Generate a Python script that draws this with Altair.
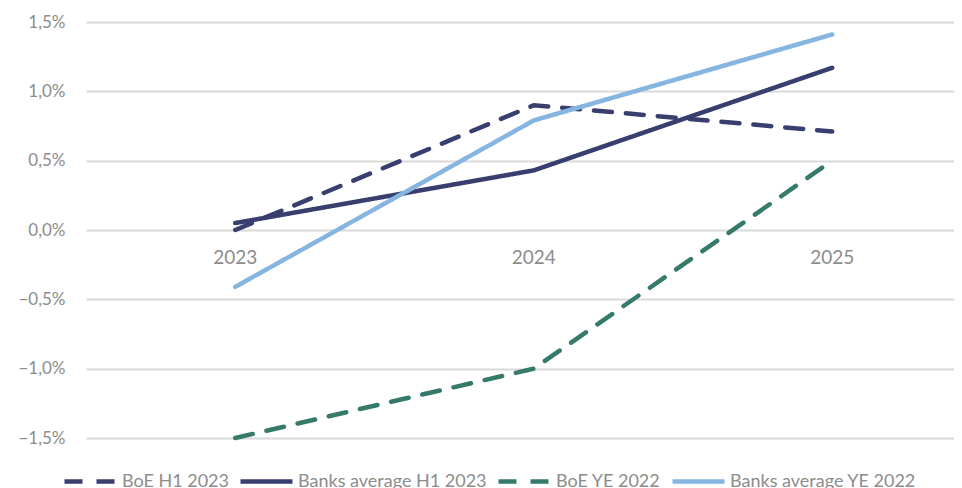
import altair as alt
import pandas as pd

years = [2023, 2024, 2025]
series_names = ["BoE H1 2023", "Banks average H1 2023", "BoE YE 2022", "Banks average YE 2022"]
boe_h1_2023 = [0.0, 0.90, 0.71]
banks_h1_2023 = [0.05, 0.43, 1.17]
boe_ye_2022 = [-1.5, -1.0, 0.5]
banks_ye_2022 = [-0.41, 0.79, 1.41]
colors = ["#383f6e", "#383f6e", "#357a6a", "#86b5e1"]
dashes = [[18, 14], [1, 0], [18, 14], [1, 0]]

rows = []
for name, vals in zip(series_names, [boe_h1_2023, banks_h1_2023, boe_ye_2022, banks_ye_2022]):
    for y, v in zip(years, vals):
        rows.append({"year": y, "value": v, "series": name})
df = pd.DataFrame(rows)
ydf = pd.DataFrame({"year": years, "label": [str(y) for y in years], "zero": [0, 0, 0]})

font = "Lato"
gray = "#8c8c8c"

xscale = alt.Scale(domain=[2022.5, 2025.408], nice=False, zero=False)
yscale = alt.Scale(domain=[-1.5, 1.5], nice=False)

leg = alt.Legend(title=None, orient="none", legendX=-24, legendY=431,
                 direction="horizontal", symbolType="stroke", gridAlign="none",
                 symbolSize=2704, symbolStrokeWidth=4.5,
                 labelFont=font, labelFontSize=18, labelColor=gray,
                 labelLimit=400, columnPadding=2, labelOffset=3)

lines = alt.Chart(df).mark_line(strokeWidth=4.5, strokeCap="round").encode(
    x=alt.X("year:Q", scale=xscale, axis=None),
    y=alt.Y("value:Q", scale=yscale, axis=alt.Axis(
        values=[-1.5, -1.0, -0.5, 0, 0.5, 1.0, 1.5],
        labelExpr="replace(format(datum.value, '.1f'), '.', ',') + '%'",
        title=None, domain=False, ticks=False, grid=True,
        gridColor="#d9d9d9", gridWidth=2, labelFont=font, labelFontSize=17,
        labelColor=gray, labelPadding=21)),
    color=alt.Color("series:N", sort=series_names,
                    scale=alt.Scale(domain=series_names, range=colors),
                    legend=leg),
    strokeDash=alt.StrokeDash("series:N", sort=series_names,
                              scale=alt.Scale(domain=series_names, range=dashes),
                              legend=leg),
)

labels = alt.Chart(ydf).mark_text(font=font, fontSize=19, color=gray, dy=28).encode(
    x=alt.X("year:Q", scale=xscale, axis=None),
    y=alt.Y("zero:Q", scale=yscale),
    text="label:N",
)

chart = alt.layer(labels, lines).properties(
    width=868, height=416,
    autosize=alt.AutoSizeParams(type="none"),
    padding={"left": 78, "top": 14, "right": 0, "bottom": 50},
).configure_view(stroke=None)

chart.save("out.html", embed_options={"renderer": "svg", "actions": False})
